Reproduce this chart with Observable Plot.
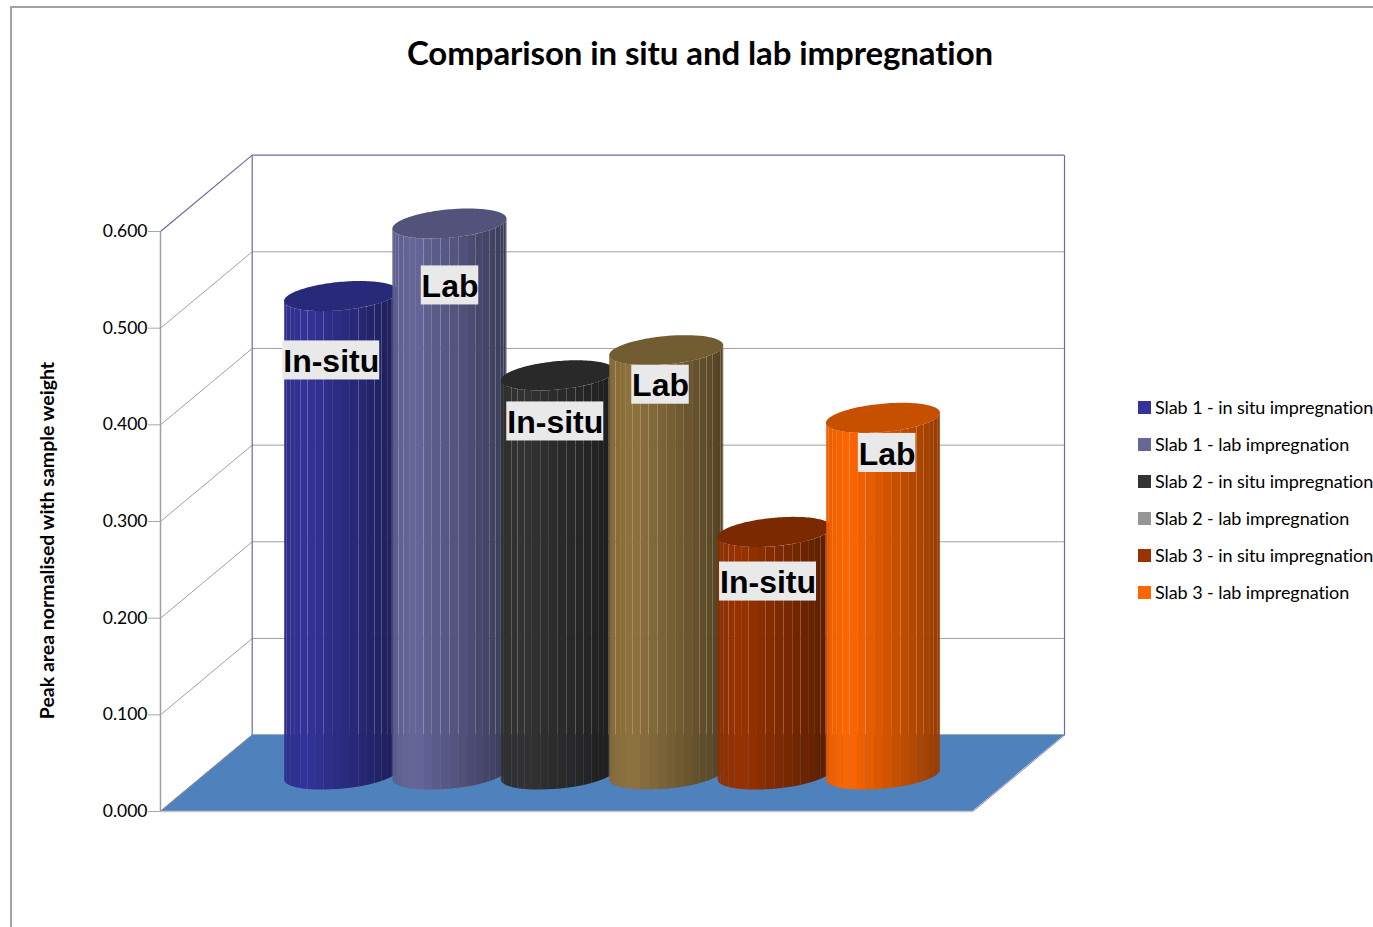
<!DOCTYPE html>
<html>
<head>
<meta charset="utf-8">
<title>Comparison in situ and lab impregnation</title>
<script src="https://cdn.jsdelivr.net/npm/d3@7"></script>
<script src="https://cdn.jsdelivr.net/npm/@observablehq/plot@0.6"></script>
<style>
  html, body { margin: 0; padding: 0; background: #fff; overflow: hidden; }
  #chart { position: relative; width: 1373px; height: 927px; font-family: Lato, sans-serif; color: #000; }
  #chart svg { position: absolute; left: 0; top: 0; }
  #border { position: absolute; left: 10px; top: 6px; right: 0; bottom: 0; border-left: 2px solid #a3a3a3; border-top: 2px solid #a3a3a3; }
  #title { position: absolute; left: 0; width: 1400px; top: 31px; text-align: center; font-size: 33px; line-height: 42px; font-weight: 700; letter-spacing: -0.1px; }
  #legend { position: absolute; left: 1138px; top: 389px; font-size: 18px; white-space: nowrap; letter-spacing: -0.07px; }
  #legend div { height: 37px; line-height: 37px; position: relative; padding-left: 17px; }
  #legend i { position: absolute; left: 0; top: 12px; width: 13px; height: 13px; }
</style>
</head>
<body>
<div id="chart">
  <div id="border"></div>
  <div id="title">Comparison in situ and lab impregnation</div>
  <div id="legend"></div>
</div>
<script>
// Peak area per slab and impregnation method
const seriesNames = [
  "Slab 1 - in situ impregnation",
  "Slab 1 - lab impregnation",
  "Slab 2 - in situ impregnation",
  "Slab 2 - lab impregnation",
  "Slab 3 - in situ impregnation",
  "Slab 3 - lab impregnation"
];
const peakArea = [0.495, 0.570, 0.413, 0.439, 0.251, 0.369];
const barLabels = ["In-situ", "Lab", "In-situ", "Lab", "In-situ", "Lab"];
const legendColors = ["#333399", "#666699", "#333333", "#969696", "#993300", "#ff6600"];
const bodyColors = ["#333399", "#666699", "#333333", "#8f733e", "#993300", "#ff6600"];
const capColors = ["#29297a", "#52527a", "#292929", "#725c32", "#7a2900", "#c75000"];
const yTicks = [0, 0.1, 0.2, 0.3, 0.4, 0.5, 0.6];

// Oblique projection of the box, in scale units
const floorLeft = -1.17, floorRight = 6.324;   // front edge of the floor, in bar slots
const depthX = 0.846, depthY = 0.079;          // shift from front to back wall
const baseLift = 0.0377;                       // bars stand mid-way back on the floor
const radius = 0.526, tilt = 0.00517, squash = 0.0147;  // ellipse of a bar's cross-section

const topY = yTicks[yTicks.length - 1];
const backLeft = floorLeft + depthX, backRight = floorRight + depthX;

// Elliptical rim of a bar at angle t
const rimX = (c, t) => c + radius * Math.cos(t);
const rimY = (level, t) => level + tilt * Math.cos(t) + squash * Math.sin(t);

// Shading across the visible half of the cylinder, p from left (0) to right (1)
const shade = (hex, p) => {
  const f = p < 0.2 ? 0.92 + 0.08 * p / 0.2 : 1 - 0.42 * (p - 0.2) / 0.8;
  const c = d3.rgb(hex);
  return d3.rgb(c.r * f, c.g * f, c.b * f).formatHex();
};

// Facets of the cylinder walls plus the elliptical cap, in drawing order
const facetCount = 20;
const pieces = peakArea.flatMap((value, i) => {
  const c = i + 0.5, base = baseLift, top = value + baseLift;
  const facets = d3.range(facetCount).flatMap((k) => {
    const a0 = Math.PI * (1 + k / facetCount), a1 = Math.PI * (1 + (k + 1) / facetCount);
    const fill = shade(bodyColors[i], (Math.cos((a0 + a1) / 2) + 1) / 2);
    return [a0, a1].map((t) => ({
      id: `${i}-${k}`, fill,
      x: rimX(c, t),
      lo: rimY(base, t),
      hi: rimY(top, t)
    }));
  });
  const cap = d3.range(73).map((k) => {
    const t = Math.PI * (1 + k / 72);
    return { id: `${i}-cap`, fill: capColors[i], x: rimX(c, t), lo: rimY(top, t), hi: rimY(top, -t) };
  });
  return [...facets, ...cap];
});

// Label plates: centre in slots and value units, width in slots
const labelPlates = [
  { x: 0.405, y: 0.4666 },
  { x: 1.501, y: 0.5442 },
  { x: 2.472, y: 0.4035 },
  { x: 3.443, y: 0.4415 },
  { x: 4.435, y: 0.2379 },
  { x: 5.534, y: 0.3709 }
].map((d, i) => ({ ...d, text: barLabels[i], w: (barLabels[i] === "Lab" ? 57.5 : 97) / 108.4 }));

const sideLevels = yTicks.slice(1, -1);

const plot = Plot.plot({
  width: 1373,
  height: 927,
  marginLeft: 160,
  marginRight: 400.7,
  marginTop: 231,
  marginBottom: 116,
  style: { background: "transparent", fontFamily: "Lato, sans-serif" },
  x: { domain: [floorLeft, floorRight], axis: null },
  y: { domain: [0, topY], axis: null },
  color: { type: "identity" },
  marks: [
    // Gridlines across the side and back walls
    Plot.link(sideLevels, { x1: floorLeft, y1: (d) => d, x2: backLeft, y2: (d) => d + depthY, stroke: "#a0a0a0", strokeWidth: 1 }),
    Plot.link(sideLevels, { x1: backLeft, y1: (d) => d + depthY, x2: backRight, y2: (d) => d + depthY, stroke: "#a0a0a0", strokeWidth: 1 }),
    Plot.link([0], { x1: floorLeft, y1: 0, x2: floorLeft, y2: topY, stroke: "#9f9fa8", strokeWidth: 1.5 }),
    // Outline of the back wall
    Plot.link([
      [floorLeft, topY, backLeft, topY + depthY],
      [backLeft, topY + depthY, backRight, topY + depthY],
      [backLeft, depthY, backLeft, topY + depthY],
      [backRight, depthY, backRight, topY + depthY],
      [backLeft, depthY, backRight, depthY]
    ], { x1: (d) => d[0], y1: (d) => d[1], x2: (d) => d[2], y2: (d) => d[3], stroke: "#6a6aa6", strokeWidth: 1.2 }),
    // Floor
    Plot.area([
      { y: 0, a: floorLeft, b: floorRight },
      { y: depthY, a: backLeft, b: backRight }
    ], { y1: "y", x1: "a", x2: "b", fill: "#4f81bd" }),
    Plot.link([
      [floorLeft, 0, backLeft, depthY],
      [floorRight, 0, backRight, depthY]
    ], { x1: (d) => d[0], y1: (d) => d[1], x2: (d) => d[2], y2: (d) => d[3], stroke: "#8a8aa0", strokeWidth: 1 }),
    Plot.link([0], { x1: floorLeft, y1: 0, x2: floorRight, y2: 0, stroke: "#c4c4c4", strokeWidth: 1.5 }),
    // Axis ticks and their labels
    Plot.axisY({ ticks: yTicks, tickSize: 12, fill: "none", stroke: "#a6a6a6", label: null }),
    Plot.axisY({
      ticks: yTicks,
      tickFormat: ".3f",
      tickSize: 0,
      tickPadding: 13,
      dy: 0,
      fontSize: 17.5,
      label: null
    }),
    Plot.text(["Peak area normalised with sample weight"], {
      text: (d) => d,
      y: () => 0.2803,
      frameAnchor: "left",
      textAnchor: "middle",
      dx: -113,
      rotate: -90,
      fontWeight: "bold",
      fontSize: 19.5
    }),
    // Cylinders
    Plot.area(pieces, { x1: "x", y1: "lo", y2: "hi", z: "id", fill: "fill" }),
    // Labels on their plates
    Plot.rect(labelPlates, {
      x1: (d) => d.x - d.w / 2,
      x2: (d) => d.x + d.w / 2,
      y1: (d) => d.y - 0.0202,
      y2: (d) => d.y + 0.0202,
      fill: "#e9e9e9"
    }),
    Plot.text(labelPlates, {
      x: "x",
      y: "y",
      dy: 1.5,
      text: "text",
      fontFamily: "'Liberation Sans', Arial, sans-serif",
      fontWeight: "bold",
      fontSize: 32,
      fill: "#000"
    })
  ]
});
document.getElementById("chart").prepend(plot);

// Legend
d3.select("#legend").selectAll("div").data(seriesNames).join("div")
  .text((d) => d)
  .append("i").style("background", (d, i) => legendColors[i]);
</script>
</body>
</html>
